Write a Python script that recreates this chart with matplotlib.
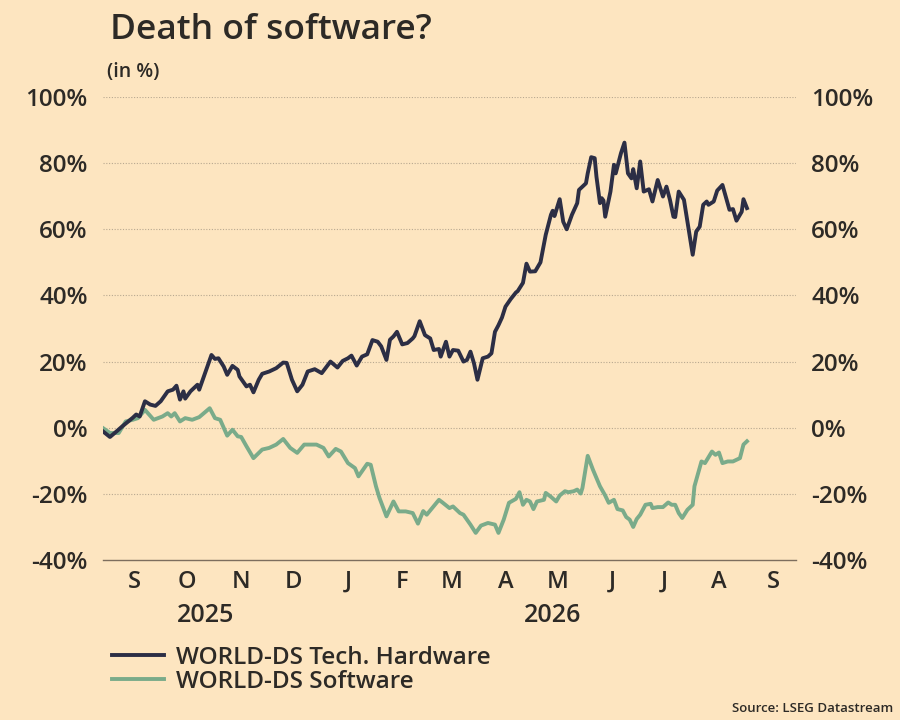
import matplotlib.pyplot as plt
import matplotlib.dates as mdates
import matplotlib.transforms as mtransforms
import pandas as pd
import numpy as np

# data: day offsets from the first trading day, cumulative performance in %
start = pd.Timestamp('2025-08-28')

hw_days = [0, 4, 8, 11, 17, 19, 21, 24, 27, 30, 33, 37, 40, 42, 44, 46, 47, 50, 54, 55,
           58, 62, 64, 66, 69, 71, 74, 77, 78, 82, 84, 86, 89, 91, 95, 99, 103, 105, 108, 111,
           114, 117, 121, 125, 130, 134, 137, 140, 142, 145, 148, 151, 154, 157, 159, 162, 164, 166, 168, 171,
           174, 177, 178, 181, 184, 187, 189, 192, 193, 196, 198, 200, 203, 206, 208, 210, 212, 214, 217, 220,
           222, 224, 226, 228, 230, 233, 236, 237, 240, 242, 244, 247, 250, 253, 256, 257, 258, 261, 263, 265,
           268, 271, 272, 276, 277, 279, 281, 282, 284, 285, 286, 287, 290, 292, 293, 296, 298, 300, 302, 303,
           305, 307, 309, 312, 314, 317, 320, 322, 324, 326, 327, 329, 332, 334, 337, 339, 341, 343, 345, 346,
           349, 351, 354, 358, 360, 362, 365, 366, 368]
hw_vals = [-1.1, -2.8, -1.0, 0.4, 3.0, 4.0, 3.4, 8.0, 7.0, 6.6, 8.0, 11.0, 11.5, 12.7, 8.5, 11.0, 8.8, 11.0, 13.0, 11.5,
           16.0, 22.0, 20.8, 21.0, 18.5, 16.0, 18.7, 17.5, 15.5, 12.5, 13.0, 10.7, 14.5, 16.3, 17.0, 18.0, 19.7, 19.6, 14.5, 11.0,
           13.0, 17.0, 17.7, 16.5, 20.0, 18.2, 20.2, 21.0, 21.8, 18.8, 21.5, 22.2, 26.5, 26.0, 24.6, 20.5, 26.6, 27.6, 29.0, 25.2,
           25.6, 27.0, 27.7, 32.2, 28.0, 27.0, 23.5, 23.8, 21.5, 26.0, 21.5, 23.5, 23.3, 20.0, 20.5, 23.0, 19.5, 14.5, 21.0, 21.5,
           22.5, 29.0, 31.0, 33.3, 36.6, 38.9, 40.9, 41.3, 43.8, 49.6, 47.2, 47.3, 50.0, 58.3, 64.4, 65.6, 64.0, 69.1, 62.3, 60.0,
           64.4, 67.9, 71.9, 73.9, 76.9, 81.8, 81.5, 75.9, 67.9, 69.4, 68.7, 63.8, 71.4, 79.5, 76.9, 83.0, 86.2, 76.9, 75.4, 78.2,
           72.4, 80.5, 71.4, 72.1, 68.4, 74.9, 69.9, 72.9, 68.9, 63.8, 63.7, 71.4, 68.9, 62.3, 52.3, 59.3, 60.8, 67.4, 68.4, 67.4,
           68.4, 71.7, 73.4, 65.9, 66.1, 62.6, 65.3, 69.1, 66.4]

sw_days = [0, 4, 9, 13, 17, 20, 24, 29, 34, 37, 39, 41, 44, 47, 51, 55, 61, 64, 67, 71,
           74, 77, 79, 82, 86, 91, 95, 99, 103, 107, 111, 115, 122, 126, 129, 133, 136, 140, 144, 146,
           151, 153, 156, 158, 162, 166, 169, 173, 177, 180, 183, 185, 192, 194, 198, 200, 204, 206, 208, 210,
           213, 216, 220, 224, 226, 229, 232, 236, 238, 240, 242, 244, 246, 248, 252, 253, 256, 259, 261, 264,
           266, 269, 271, 273, 274, 277, 280, 282, 284, 287, 289, 292, 294, 297, 299, 301, 303, 305, 307, 310,
           313, 314, 317, 320, 323, 325, 327, 329, 331, 334, 337, 338, 342, 344, 348, 350, 352, 354, 357, 360,
           364, 366, 368]
sw_vals = [-0.1, -1.6, -1.6, 1.9, 2.4, 2.9, 5.4, 2.4, 3.4, 4.4, 3.4, 4.4, 1.9, 2.9, 2.4, 3.2, 5.9, 2.9, 2.4, -2.4,
           -0.6, -2.6, -2.8, -5.6, -9.2, -6.6, -6.1, -5.1, -3.4, -6.1, -7.6, -5.1, -5.1, -6.1, -8.7, -6.4, -7.2, -10.7, -12.2, -14.7,
           -10.9, -11.2, -17.7, -21.2, -26.8, -22.3, -25.3, -25.3, -25.8, -29.0, -25.2, -26.3, -21.8, -22.6, -24.3, -23.8, -25.8, -26.3, -27.8, -29.3,
           -31.8, -29.6, -28.8, -29.3, -31.8, -27.8, -22.7, -21.5, -19.5, -23.3, -21.8, -22.3, -24.6, -22.3, -21.8, -19.7, -20.9, -22.3, -20.5, -19.2,
           -19.5, -19.2, -18.7, -19.9, -18.2, -8.5, -12.7, -15.2, -17.7, -20.5, -22.7, -21.8, -24.6, -25.0, -27.0, -27.8, -30.0, -27.6, -26.3, -23.3,
           -23.0, -24.3, -24.0, -24.0, -22.6, -23.3, -23.3, -25.8, -27.3, -24.8, -23.3, -17.7, -10.2, -10.7, -7.2, -8.2, -7.5, -10.7, -10.2, -10.2,
           -9.2, -5.1, -4.1]

month_labels = ['S', 'O', 'N', 'D', 'J', 'F', 'M', 'A', 'M', 'J', 'J', 'A', 'S']
y_ticks = [-40, -20, 0, 20, 40, 60, 80, 100]
series_names = ['WORLD-DS Tech. Hardware', 'WORLD-DS Software']

bg = '#fde5c0'
txt = '#2d2a26'
c_hw = '#2c2e45'
c_sw = '#7aab8a'

plt.rcParams['font.family'] = ['Open Sans', 'DejaVu Sans']
plt.rcParams['font.weight'] = 'semibold'

fig = plt.figure(figsize=(9, 7.2), dpi=100, facecolor=bg)
ax = fig.add_axes([0.1144, 0.2222, 0.77, 0.6431])
ax.set_facecolor(bg)

hw_dates = start + pd.to_timedelta(hw_days, unit='D')
sw_dates = start + pd.to_timedelta(sw_days, unit='D')
ax.plot(hw_dates, hw_vals, color=c_hw, lw=2.8, solid_joinstyle='round', zorder=3, label=series_names[0])
ax.plot(sw_dates, sw_vals, color=c_sw, lw=2.8, solid_joinstyle='round', zorder=2, label=series_names[1])

# grid
for v in y_ticks[1:]:
    ax.axhline(v, color='#b8a890', lw=0.8, ls=(0, (1, 1.5)), zorder=1)

for s in ['top', 'left', 'right']:
    ax.spines[s].set_visible(False)
ax.spines['bottom'].set_color('#7d6e5e')
ax.spines['bottom'].set_linewidth(1.0)

mid_months = pd.date_range('2025-09-01', periods=13, freq='MS') + pd.Timedelta(days=14)
ax.set_xticks(mid_months)
ax.set_xticklabels(month_labels)
ax.tick_params(axis='x', length=0, pad=7, labelsize=17, labelcolor=txt)

ax.set_yticks(y_ticks)
ax.set_yticklabels([f'{v}%' for v in y_ticks])
ax.tick_params(axis='y', length=0, pad=11, labelsize=17.5, labelcolor=txt,
               labelleft=True, labelright=True)

ax.set_xlim(pd.Timestamp('2025-08-28'), pd.Timestamp('2026-09-28'))
ax.set_ylim(-40, 100)

# year labels centred under each year's span
trans = mtransforms.blended_transform_factory(ax.transData, ax.transAxes)
x0, x1 = ax.get_xlim()
for yr in [2025, 2026]:
    a = max(x0, mdates.date2num(pd.Timestamp(f'{yr}-01-01')))
    b = min(x1, mdates.date2num(pd.Timestamp(f'{yr}-12-31')))
    ax.text((a + b) / 2 - 4, -0.092, str(yr), transform=trans, ha='center', va='top',
            fontsize=18, color=txt)

fig.text(0.122, 0.958, 'Death of software?', fontsize=25.5, fontweight='semibold', color=txt,
         ha='left', va='center')
fig.text(0.119, 0.9, '(in %)', fontsize=14, color=txt, ha='left', va='center')

fig.legend(loc='upper left', bbox_to_anchor=(0.124, 0.103), frameon=False,
           fontsize=17.5, handlelength=2.15, handletextpad=0.5, labelspacing=0.0,
           labelcolor=txt, borderaxespad=0, borderpad=0)

fig.text(0.992, 0.016, 'Source: LSEG Datastream', fontsize=9.5, fontweight='semibold',
         color=txt, ha='right', va='center')

fig.savefig('out.png', dpi=100, facecolor=bg)
